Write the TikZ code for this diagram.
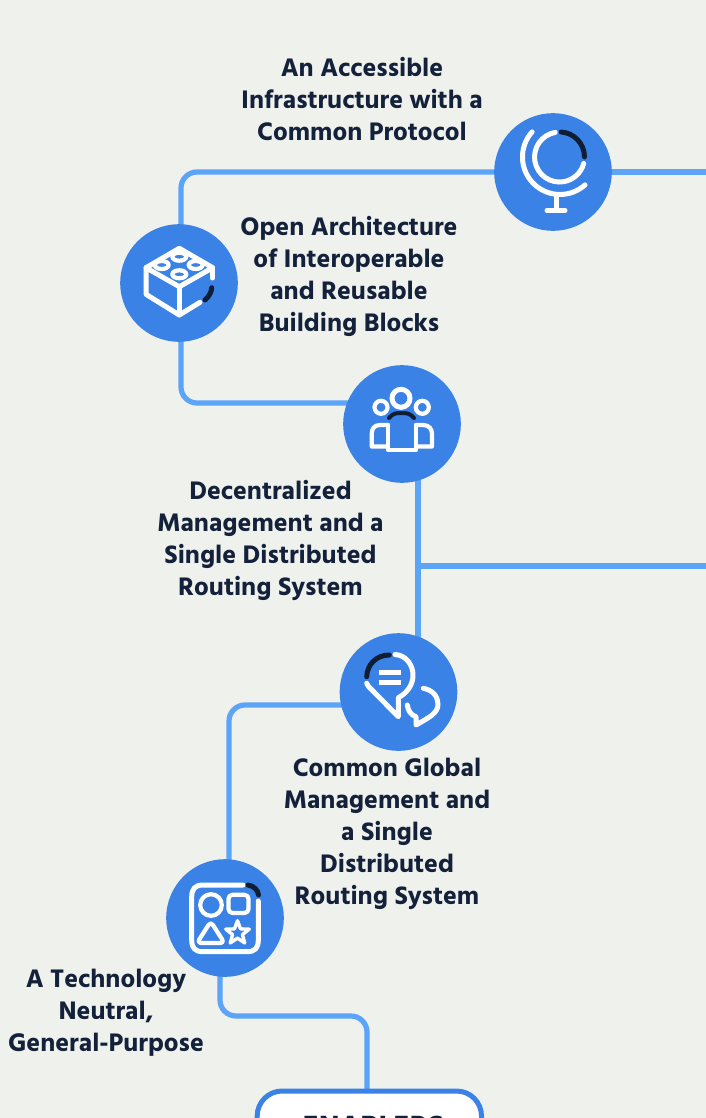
\documentclass[tikz,border=0pt]{standalone}
\usepackage{fontspec}
\setmainfont{Hind Siliguri}[UprightFont=* Bold,BoldFont=* Bold]
\definecolor{bgc}{HTML}{EFF1ED}
\definecolor{linec}{HTML}{5BA4F8}
\definecolor{discc}{HTML}{3B82E6}
\definecolor{inkc}{HTML}{14213A}
\definecolor{darkc}{HTML}{0F1E33}
\tikzset{
  disc/.style={circle,fill=discc,minimum size=117.6pt,inner sep=0pt,outer sep=0pt},
  conn/.style={draw=linec,line width=5.2pt,rounded corners=16pt},
  lbl/.style={text=inkc,font=\fontsize{26}{32}\selectfont,align=center,inner sep=0pt},
  ico/.style={draw=white,line width=5pt,line cap=round,line join=round},
  icod/.style={draw=darkc,line width=5pt,line cap=round},
  thin/.style={draw=white,line width=4.2pt,line cap=round,line join=round},
}
\begin{document}
\begin{tikzpicture}[x=1pt,y=-1pt]
\useasboundingbox (0,0) rectangle (706,1118);
\fill[bgc] (0,0) rectangle (706,1118);
\begin{scope}
\clip (0,0) rectangle (706,1118);
\coordinate (e1) at (706,172);
\coordinate (e2) at (706,566);
\coordinate (j1) at (418,566);
\coordinate (globeC) at (553,172);
\coordinate (legoC) at (179,283);
\coordinate (teamC) at (402,424);
\coordinate (chatC) at (398.5,692);
\coordinate (shapesC) at (225,918);
% connectors
\draw[conn] (globeC) -- (181,172) -- (181,240);
\draw[conn] (globeC) -- (e1);
\draw[conn] (181,320) -- (181,403) -- (teamC |- 0,403);
\draw[conn] (418,450) -- (418,660);
\draw[conn] (j1) -- (e2);
\draw[conn] (chatC |- 0,705) -- (229,705) -- (229,890);
\draw[conn] (220,950) -- (220,1016) -- (367,1016) -- (367,1100);
% box
\node[draw=discc,line width=5pt,fill=white,rounded corners=25pt,minimum width=224.3pt,minimum height=80pt,anchor=north west,inner sep=0pt,outer sep=0pt] (box) at (257.2,1091) {};
\node[anchor=north,text=inkc,font=\fontsize{30}{36}\selectfont,inner sep=0pt] (boxt) at (373,1116) {ENABLERS};
% discs
\node[disc] (globe) at (globeC) {};
\node[disc] (lego) at (legoC) {};
\node[disc] (team) at (teamC) {};
\node[disc] (chat) at (chatC) {};
\node[disc] (shapes) at (shapesC) {};
% globe icon
\begin{scope}[shift={(480,100)}]
\draw[ico] (75.2,32.4) arc[start angle=-100,end angle=-345,radius=25];
\draw[icod] (81.2,32) arc[start angle=-86,end angle=0,radius=25];
\draw[ico] (52.1,31.9) arc[start angle=-138,end angle=-312,radius=37.5];
\draw[ico] (76,95) -- (76,110.5);
\draw[ico] (67,110.5) -- (85,110.5);
\end{scope}
% lego icon
\begin{scope}[shift={(110,215)}]
\draw[ico] (36,52.7) -- (69.3,33.3) -- (102.7,52.7) -- (69.3,71.7) -- cycle;
\draw[ico] (36,52.7) -- (36,79.3) -- (69.3,100) -- (90,87.3);
\draw[ico] (69.3,71.7) -- (69.3,100);
\draw[ico] (102.2,52.7) -- (102.2,63);
\draw[icod] (101.7,72.7) .. controls (101.5,77) and (99,81.5) .. (95,85);
\draw[thin] (69.3,41.7) ellipse[x radius=7,y radius=4];
\draw[thin] (51.7,50) ellipse[x radius=7,y radius=4];
\draw[thin] (85.7,50) ellipse[x radius=7,y radius=4];
\draw[thin] (69.3,59.3) ellipse[x radius=7,y radius=4];
\end{scope}
% team icon
\begin{scope}[shift={(335,360)}]
\draw[ico] (66,38.3) circle[radius=9];
\draw[thin] (46,47.3) circle[radius=6.5];
\draw[thin] (87.3,47.3) circle[radius=6.5];
\draw[icod,line width=4pt] (54,58) .. controls (58,53) and (62,53) .. (66,53) .. controls (71,53) and (75,53) .. (79,58);
\draw[thin] (53,65) -- (45,65) .. controls (39,65) and (36.7,69) .. (36.7,74) -- (36.7,86.5) -- (53,86.5);
\draw[thin] (81,65) -- (88,65) .. controls (94,65) and (97,69) .. (97,74) -- (97,86.5) -- (81,86.5);
\draw[thin] (53,65) -- (53,90) -- (81,90) -- (81,65);
\end{scope}
% chat icon
\begin{scope}[shift={(330,625)}]
\draw[icod] (59.3,30) .. controls (46,30) and (37,40) .. (36.7,51.7);
\draw[ico] (65,29.5) .. controls (76,30) and (83,40) .. (83,50) .. controls (83,60) and (77,68) .. (68.3,72.7) -- (68.3,91.7) -- (42,65) .. controls (39.5,63) and (37.5,60.5) .. (36.7,58.3);
\draw[ico,line cap=butt] (49,47.5) -- (71,47.5);
\draw[ico,line cap=butt] (49,57.3) -- (71,57.3);
\draw[ico] (93.3,63.3) .. controls (103,65) and (108,72) .. (108,79) .. controls (108,88) and (100,92) .. (86,100) -- (86,91.7) .. controls (81,90) and (78,86) .. (77.3,80);
\end{scope}
% shapes icon
\begin{scope}[shift={(155,850)}]
\draw[ico] (88,35) -- (48,35) .. controls (40,35) and (36.7,39) .. (36.7,47) -- (36.7,90) .. controls (36.7,98) and (40,101.7) .. (48,101.7) -- (92,101.7) .. controls (100,101.7) and (103.3,98) .. (103.3,90) -- (103.3,51);
\draw[icod] (93,35) .. controls (99,36) and (103,40) .. (103.5,45);
\draw[thin] (56,55) circle[radius=10.8];
\draw[thin,rounded corners=4pt] (73.5,44.8) rectangle (93.5,63);
\draw[thin,rounded corners=4pt] (55.7,71.5) -- (69.5,93) -- (42,93) -- cycle;
\begin{scope}[shift={(82.5,83)},scale=1.12,shift={(-82.5,-83)}]
\draw[thin,line width=3.4pt] (82.5,72) -- (85.2,79.3) -- (92.96,79.6) -- (86.9,84.4) -- (88.97,91.9) -- (82.5,87.6) -- (76.03,91.9) -- (78.1,84.4) -- (72.04,79.6) -- (79.8,79.3) -- cycle;
\end{scope}
\end{scope}
% labels
\node[lbl] (t1) at (362,99) {An Accessible\\Infrastructure with a\\Common Protocol};
\node[lbl] (t2) at (349,276) {Open Architecture\\of Interoperable\\and Reusable\\Building Blocks};
\node[lbl] (t3) at (270.5,540) {Decentralized\\Management and a\\Single Distributed\\Routing System};
\node[lbl] (t4) at (387,834) {Common Global\\Management and\\a Single\\Distributed\\Routing System};
\node[lbl] (t5) at (106,1013) {A Technology\\Neutral,\\General-Purpose};
\end{scope}
\end{tikzpicture}
\end{document}
